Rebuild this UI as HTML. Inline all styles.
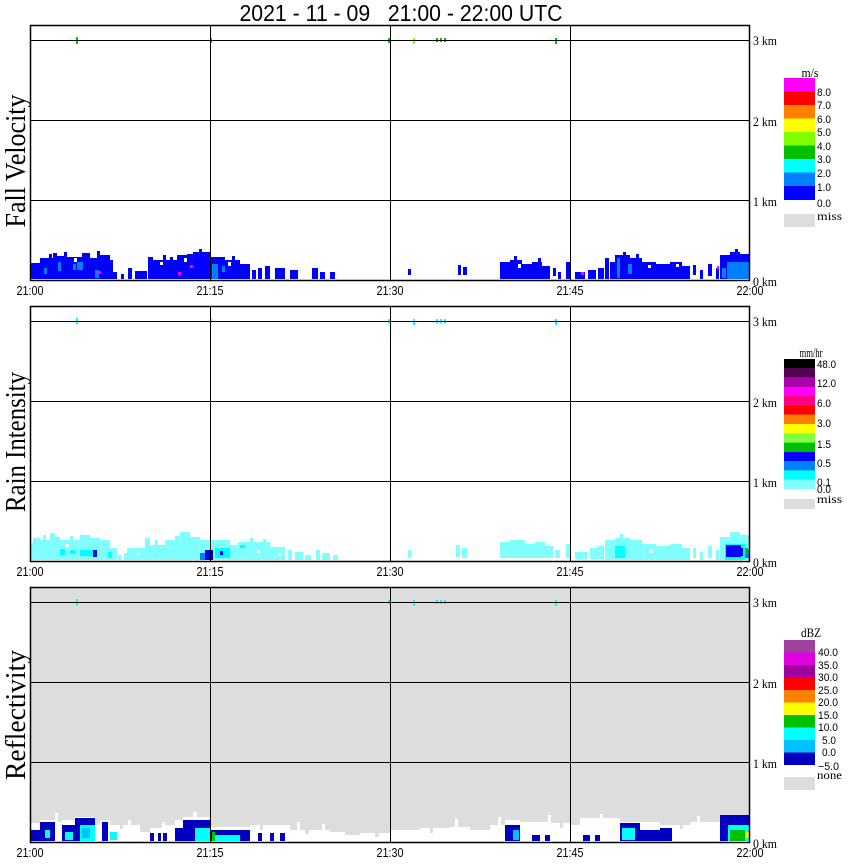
<!DOCTYPE html>
<html><head><meta charset="utf-8"><style>
html,body{margin:0;padding:0;background:#fff;}
svg{display:block;}
.t{font-family:"Liberation Sans",sans-serif;}
.s{font-family:"Liberation Serif",serif;}
.pre{white-space:pre;}
</style></head><body>
<svg width="850" height="868" viewBox="0 0 850 868" xmlns="http://www.w3.org/2000/svg">
<rect x="0" y="0" width="850" height="868" fill="#fff"/>
<text class="t pre" x="401" y="21" font-size="23" text-anchor="middle" textLength="323" lengthAdjust="spacingAndGlyphs" xml:space="preserve">2021 - 11 - 09   21:00 - 22:00 UTC</text>

<!-- ========== PANEL 1 : Fall Velocity ========== -->
<g fill="#0000ff">
<rect x="31" y="263" width="9" height="16"/><rect x="40" y="258" width="13" height="21"/><rect x="53" y="253" width="4" height="26"/>
<rect x="57" y="256" width="10" height="23"/><rect x="67" y="257" width="15" height="22"/><rect x="82" y="253" width="8" height="26"/>
<rect x="90" y="258" width="10" height="21"/><rect x="100" y="255" width="10" height="24"/><rect x="110" y="260" width="3" height="19"/>
<rect x="113" y="272" width="4" height="7"/><rect x="121" y="274" width="3" height="5"/><rect x="128" y="268" width="4" height="11"/>
<rect x="135" y="271" width="12" height="8"/><rect x="148" y="257" width="5" height="22"/><rect x="153" y="260" width="24" height="19"/>
<rect x="177" y="255" width="10" height="24"/><rect x="187" y="254" width="6" height="25"/><rect x="193" y="252" width="17" height="27"/>
<rect x="210" y="257" width="15" height="22"/><rect x="225" y="260" width="15" height="19"/><rect x="240" y="264" width="10" height="15"/>
<rect x="252" y="270" width="4" height="9"/><rect x="258" y="268" width="4" height="11"/><rect x="265" y="266" width="5" height="13"/>
<rect x="275" y="268" width="10" height="11"/><rect x="290" y="270" width="8" height="9"/><rect x="312" y="268" width="6" height="11"/>
<rect x="320" y="272" width="5" height="7"/><rect x="330" y="272" width="5" height="7"/>
<rect x="408" y="269" width="3" height="6"/><rect x="458" y="265" width="3" height="10"/><rect x="463" y="267" width="4" height="8"/>
<rect x="500" y="262" width="10" height="17"/><rect x="510" y="260" width="12" height="19"/><rect x="522" y="264" width="10" height="15"/>
<rect x="532" y="262" width="10" height="17"/><rect x="542" y="266" width="8" height="13"/><rect x="553" y="268" width="3" height="8"/>
<rect x="558" y="272" width="3" height="7"/><rect x="566" y="262" width="4" height="17"/><rect x="575" y="272" width="10" height="7"/>
<rect x="588" y="270" width="8" height="9"/><rect x="598" y="268" width="6" height="11"/><rect x="605" y="258" width="4" height="21"/>
<rect x="610" y="262" width="5" height="17"/><rect x="615" y="255" width="15" height="24"/><rect x="630" y="258" width="12" height="21"/>
<rect x="642" y="262" width="14" height="17"/><rect x="656" y="264" width="14" height="15"/><rect x="670" y="262" width="12" height="17"/>
<rect x="682" y="266" width="8" height="13"/><rect x="693" y="265" width="3" height="10"/><rect x="700" y="270" width="3" height="9"/>
<rect x="708" y="264" width="4" height="12"/><rect x="716" y="268" width="3" height="11"/><rect x="720" y="255" width="10" height="24"/>
<rect x="730" y="252" width="10" height="27"/><rect x="740" y="254" width="9" height="25"/>
<!-- bumps -->
<rect x="49" y="254" width="3" height="5"/><rect x="64" y="252" width="3" height="5"/><rect x="97" y="251" width="3" height="8"/>
<rect x="163" y="255" width="3" height="6"/><rect x="170" y="257" width="3" height="4"/><rect x="199" y="249" width="3" height="4"/>
<rect x="232" y="256" width="3" height="5"/><rect x="514" y="256" width="3" height="5"/><rect x="538" y="258" width="3" height="5"/>
<rect x="623" y="252" width="3" height="4"/><rect x="636" y="254" width="3" height="5"/><rect x="735" y="249" width="3" height="4"/>
</g>
<g fill="#fff">
<rect x="74" y="258" width="3" height="4"/><rect x="118" y="262" width="3" height="4"/><rect x="160" y="262" width="3" height="3"/>
<rect x="184" y="258" width="3" height="4"/><rect x="228" y="262" width="3" height="4"/><rect x="518" y="264" width="3" height="4"/>
<rect x="648" y="265" width="3" height="3"/><rect x="676" y="264" width="3" height="3"/>
</g>
<g fill="#0080ff">
<rect x="44" y="268" width="3" height="6"/><rect x="58" y="262" width="3" height="9"/><rect x="73" y="264" width="3" height="6"/>
<rect x="77" y="262" width="6" height="8"/><rect x="95" y="270" width="4" height="8"/><rect x="212" y="264" width="6" height="15"/>
<rect x="222" y="266" width="3" height="6"/><rect x="617" y="258" width="3" height="20"/><rect x="628" y="264" width="4" height="10"/>
<rect x="727" y="262" width="22" height="17"/><rect x="722" y="268" width="4" height="10"/>
</g>
<g fill="#ff00ff">
<rect x="98" y="271" width="3" height="3"/><rect x="190" y="265" width="3" height="3"/><rect x="178" y="272" width="3" height="3"/><rect x="581" y="272" width="3" height="3"/><rect x="717" y="266" width="2" height="3"/>
</g>
<g fill="#00c000">
<rect x="76" y="37" width="2" height="7"/><rect x="210" y="38" width="2" height="5"/><rect x="388" y="38" width="2" height="5"/>
<rect x="436" y="38" width="2" height="4"/><rect x="440" y="38" width="2" height="4"/><rect x="444" y="38" width="2" height="4"/>
<rect x="555" y="38" width="2" height="6"/>
</g>
<rect x="413" y="38" width="2" height="6" fill="#80ff00"/>

<!-- ========== PANEL 2 : Rain Intensity ========== -->
<g fill="#80ffff">
<rect x="31" y="543" width="3" height="17"/><rect x="33" y="538" width="7" height="22"/><rect x="40" y="540" width="10" height="20"/>
<rect x="50" y="533" width="5" height="27"/><rect x="55" y="537" width="5" height="23"/><rect x="60" y="540" width="20" height="20"/>
<rect x="80" y="535" width="10" height="25"/><rect x="90" y="538" width="10" height="22"/><rect x="100" y="540" width="10" height="20"/>
<rect x="110" y="548" width="7" height="12"/><rect x="118" y="555" width="3" height="5"/><rect x="124" y="553" width="3" height="7"/>
<rect x="127" y="548" width="5" height="12"/><rect x="132" y="548" width="13" height="12"/><rect x="145" y="538" width="5" height="22"/>
<rect x="150" y="545" width="15" height="15"/><rect x="165" y="540" width="10" height="20"/><rect x="175" y="536" width="5" height="24"/>
<rect x="180" y="532" width="10" height="28"/><rect x="190" y="537" width="10" height="23"/><rect x="200" y="540" width="10" height="20"/>
<rect x="210" y="540" width="20" height="20"/><rect x="230" y="545" width="8" height="15"/><rect x="238" y="542" width="32" height="18"/>
<rect x="270" y="547" width="15" height="13"/><rect x="288" y="550" width="4" height="10"/><rect x="295" y="552" width="8" height="8"/>
<rect x="305" y="555" width="6" height="5"/><rect x="316" y="550" width="4" height="10"/><rect x="322" y="553" width="8" height="7"/>
<rect x="333" y="555" width="5" height="5"/>
<rect x="408" y="550" width="3" height="8"/><rect x="456" y="545" width="4" height="12"/><rect x="462" y="548" width="5" height="10"/>
<rect x="500" y="542" width="10" height="16"/><rect x="510" y="540" width="15" height="18"/><rect x="525" y="544" width="10" height="14"/>
<rect x="535" y="542" width="10" height="16"/><rect x="545" y="546" width="8" height="12"/><rect x="555" y="550" width="5" height="8"/>
<rect x="566" y="544" width="4" height="14"/><rect x="575" y="552" width="12" height="7"/><rect x="590" y="548" width="8" height="11"/>
<rect x="598" y="546" width="6" height="13"/><rect x="605" y="540" width="10" height="20"/><rect x="615" y="538" width="15" height="22"/>
<rect x="630" y="540" width="12" height="20"/><rect x="642" y="544" width="14" height="16"/><rect x="656" y="546" width="14" height="14"/>
<rect x="670" y="544" width="12" height="16"/><rect x="682" y="548" width="8" height="12"/><rect x="693" y="548" width="3" height="10"/>
<rect x="700" y="552" width="3" height="8"/><rect x="708" y="546" width="4" height="12"/><rect x="716" y="550" width="3" height="10"/>
<rect x="720" y="537" width="10" height="23"/><rect x="730" y="532" width="10" height="28"/><rect x="740" y="535" width="9" height="25"/>
<rect x="43" y="535" width="3" height="5"/><rect x="70" y="536" width="3" height="5"/><rect x="155" y="540" width="3" height="5"/>
<rect x="250" y="538" width="3" height="5"/><rect x="263" y="539" width="3" height="4"/><rect x="620" y="534" width="3" height="5"/>
</g>
<g fill="#fff">
<rect x="66" y="544" width="3" height="3"/><rect x="137" y="552" width="3" height="3"/><rect x="257" y="550" width="3" height="3"/>
<rect x="278" y="553" width="3" height="3"/><rect x="650" y="550" width="3" height="3"/>
</g>
<g fill="#00ffff">
<rect x="60" y="549" width="5" height="6"/><rect x="70" y="550" width="5" height="4"/><rect x="80" y="550" width="15" height="6"/>
<rect x="108" y="552" width="4" height="6"/><rect x="215" y="548" width="15" height="10"/><rect x="240" y="545" width="5" height="3"/>
<rect x="615" y="546" width="10" height="12"/><rect x="725" y="544" width="20" height="16"/>
<rect x="76" y="318" width="2" height="6"/><rect x="210" y="319" width="2" height="4"/><rect x="388" y="319" width="2" height="4"/>
<rect x="413" y="319" width="2" height="6"/><rect x="436" y="319" width="2" height="4"/><rect x="440" y="319" width="2" height="4"/>
<rect x="444" y="319" width="2" height="4"/><rect x="555" y="319" width="2" height="6"/>
</g>
<g fill="#0000ff">
<rect x="93" y="550" width="4" height="7"/><rect x="205" y="550" width="8" height="10"/><rect x="220" y="551" width="3" height="4"/>
<rect x="726" y="545" width="15" height="12"/><rect x="735" y="548" width="8" height="8"/>
</g>
<rect x="200" y="553" width="5" height="7" fill="#0080ff"/>
<rect x="745" y="550" width="4" height="8" fill="#0080ff"/>
<rect x="745" y="548" width="3" height="6" fill="#00c000"/>

<!-- ========== PANEL 3 : Reflectivity ========== -->
<rect x="31" y="588" width="718" height="253" fill="#dddddd"/>
<g fill="#ffffff">
<rect x="31" y="823" width="9" height="18"/><rect x="40" y="820" width="15" height="21"/><rect x="55" y="813" width="3" height="28"/>
<rect x="57" y="822" width="5" height="19"/><rect x="62" y="820" width="13" height="21"/><rect x="75" y="817" width="20" height="24"/>
<rect x="95" y="825" width="5" height="16"/><rect x="100" y="820" width="10" height="21"/><rect x="110" y="825" width="30" height="16"/>
<rect x="140" y="832" width="10" height="9"/><rect x="150" y="828" width="15" height="13"/><rect x="165" y="825" width="10" height="16"/>
<rect x="175" y="820" width="8" height="21"/><rect x="183" y="817" width="10" height="24"/><rect x="193" y="812" width="4" height="29"/>
<rect x="197" y="817" width="13" height="24"/><rect x="210" y="827" width="40" height="14"/><rect x="250" y="825" width="40" height="16"/>
<rect x="290" y="830" width="40" height="11"/><rect x="330" y="832" width="15" height="9"/><rect x="345" y="835" width="15" height="6"/>
<rect x="360" y="833" width="30" height="8"/><rect x="390" y="830" width="30" height="11"/><rect x="420" y="828" width="30" height="13"/>
<rect x="450" y="827" width="20" height="14"/><rect x="470" y="830" width="20" height="11"/><rect x="490" y="825" width="15" height="16"/>
<rect x="505" y="820" width="15" height="21"/><rect x="520" y="822" width="30" height="19"/><rect x="550" y="823" width="20" height="18"/>
<rect x="570" y="825" width="10" height="16"/><rect x="580" y="818" width="40" height="23"/><rect x="620" y="822" width="40" height="19"/>
<rect x="660" y="825" width="30" height="16"/><rect x="690" y="822" width="30" height="19"/><rect x="720" y="815" width="29" height="26"/>
<rect x="128" y="820" width="3" height="6"/><rect x="162" y="822" width="3" height="6"/><rect x="297" y="822" width="3" height="8"/>
<rect x="322" y="824" width="3" height="6"/><rect x="455" y="819" width="3" height="8"/><rect x="498" y="817" width="3" height="8"/>
<rect x="548" y="815" width="3" height="8"/><rect x="600" y="814" width="3" height="5"/><rect x="697" y="816" width="3" height="6"/>
</g>
<g fill="#dddddd">
<rect x="120" y="825" width="3" height="4"/><rect x="260" y="825" width="3" height="5"/><rect x="305" y="830" width="4" height="4"/>
<rect x="375" y="833" width="4" height="4"/><rect x="430" y="828" width="3" height="5"/><rect x="560" y="823" width="3" height="5"/>
<rect x="680" y="825" width="3" height="4"/>
</g>
<g fill="#0000c0">
<rect x="31" y="830" width="9" height="11"/><rect x="40" y="822" width="15" height="19"/><rect x="62" y="825" width="13" height="16"/>
<rect x="75" y="818" width="20" height="23"/><rect x="102" y="822" width="6" height="19"/>
<rect x="150" y="833" width="4" height="8"/><rect x="158" y="833" width="3" height="8"/><rect x="163" y="833" width="4" height="8"/>
<rect x="175" y="828" width="8" height="13"/><rect x="183" y="820" width="27" height="21"/><rect x="210" y="830" width="40" height="11"/>
<rect x="258" y="833" width="4" height="8"/><rect x="270" y="833" width="4" height="8"/><rect x="280" y="833" width="5" height="8"/>
<rect x="505" y="825" width="15" height="16"/><rect x="532" y="835" width="8" height="6"/><rect x="545" y="835" width="5" height="6"/>
<rect x="583" y="835" width="7" height="6"/><rect x="595" y="835" width="5" height="6"/><rect x="620" y="823" width="20" height="18"/>
<rect x="640" y="830" width="20" height="11"/><rect x="660" y="828" width="12" height="13"/><rect x="720" y="815" width="29" height="26"/>
</g>
<g fill="#00ffff">
<rect x="45" y="830" width="5" height="8"/><rect x="80" y="825" width="15" height="16"/><rect x="65" y="832" width="8" height="8"/>
<rect x="110" y="832" width="7" height="8"/><rect x="195" y="828" width="15" height="13"/><rect x="215" y="835" width="25" height="6"/>
<rect x="622" y="828" width="13" height="12"/><rect x="728" y="825" width="21" height="16"/>
<rect x="76" y="599" width="2" height="6"/><rect x="388" y="600" width="2" height="4"/><rect x="413" y="600" width="2" height="6"/>
<rect x="436" y="600" width="2" height="4"/><rect x="440" y="600" width="2" height="4"/><rect x="444" y="600" width="2" height="4"/>
<rect x="555" y="600" width="2" height="6"/>
</g>
<rect x="82" y="828" width="8" height="10" fill="#00c0ff"/>
<rect x="513" y="830" width="6" height="10" fill="#00c0ff"/>
<rect x="212" y="832" width="3" height="9" fill="#00c000"/>
<rect x="730" y="830" width="15" height="11" fill="#00c000"/>
<rect x="746" y="832" width="3" height="6" fill="#ffff00"/>

<!-- ========== GRIDS / FRAMES ========== -->
<g stroke="#000" stroke-width="1" fill="none">
<path d="M30 40.5H750M30 120.5H750M30 200.5H750M210.5 25V280M390.5 25V280M570.5 25V280"/>
<path d="M30 321.5H750M30 401.5H750M30 481.5H750M210.5 306V561M390.5 306V561M570.5 306V561"/>
<path d="M30 602.5H750M30 682.5H750M30 762.5H750M210.5 587V842M390.5 587V842M570.5 587V842"/>
</g>
<g stroke="#000" stroke-width="1.5" fill="none">
<rect x="30.5" y="25.5" width="719" height="255"/>
<rect x="30.5" y="306.5" width="719" height="255"/>
<rect x="30.5" y="587.5" width="719" height="255"/>
</g>

<!-- time labels -->
<g class="t" font-size="13" text-anchor="middle">
<text x="30" y="295" textLength="27" lengthAdjust="spacingAndGlyphs">21:00</text>
<text x="210" y="295" textLength="27" lengthAdjust="spacingAndGlyphs">21:15</text>
<text x="390" y="295" textLength="27" lengthAdjust="spacingAndGlyphs">21:30</text>
<text x="570" y="295" textLength="27" lengthAdjust="spacingAndGlyphs">21:45</text>
<text x="750" y="295" textLength="27" lengthAdjust="spacingAndGlyphs">22:00</text>
<text x="30" y="576" textLength="27" lengthAdjust="spacingAndGlyphs">21:00</text>
<text x="210" y="576" textLength="27" lengthAdjust="spacingAndGlyphs">21:15</text>
<text x="390" y="576" textLength="27" lengthAdjust="spacingAndGlyphs">21:30</text>
<text x="570" y="576" textLength="27" lengthAdjust="spacingAndGlyphs">21:45</text>
<text x="750" y="576" textLength="27" lengthAdjust="spacingAndGlyphs">22:00</text>
<text x="30" y="857" textLength="27" lengthAdjust="spacingAndGlyphs">21:00</text>
<text x="210" y="857" textLength="27" lengthAdjust="spacingAndGlyphs">21:15</text>
<text x="390" y="857" textLength="27" lengthAdjust="spacingAndGlyphs">21:30</text>
<text x="570" y="857" textLength="27" lengthAdjust="spacingAndGlyphs">21:45</text>
<text x="750" y="857" textLength="27" lengthAdjust="spacingAndGlyphs">22:00</text>
</g>

<!-- km labels -->
<g class="s" font-size="12.5">
<text x="753" y="45" textLength="24" lengthAdjust="spacingAndGlyphs">3 km</text>
<text x="753" y="126" textLength="24" lengthAdjust="spacingAndGlyphs">2 km</text>
<text x="753" y="206" textLength="24" lengthAdjust="spacingAndGlyphs">1 km</text>
<text x="753" y="286" textLength="24" lengthAdjust="spacingAndGlyphs">0 km</text>
<text x="753" y="326" textLength="24" lengthAdjust="spacingAndGlyphs">3 km</text>
<text x="753" y="407" textLength="24" lengthAdjust="spacingAndGlyphs">2 km</text>
<text x="753" y="487" textLength="24" lengthAdjust="spacingAndGlyphs">1 km</text>
<text x="753" y="567" textLength="24" lengthAdjust="spacingAndGlyphs">0 km</text>
<text x="753" y="607" textLength="24" lengthAdjust="spacingAndGlyphs">3 km</text>
<text x="753" y="688" textLength="24" lengthAdjust="spacingAndGlyphs">2 km</text>
<text x="753" y="768" textLength="24" lengthAdjust="spacingAndGlyphs">1 km</text>
<text x="753" y="848" textLength="24" lengthAdjust="spacingAndGlyphs">0 km</text>
</g>

<!-- Y axis titles -->
<g class="s" font-size="29" text-anchor="middle">
<text transform="translate(25,161) rotate(-90)" textLength="133" lengthAdjust="spacingAndGlyphs">Fall Velocity</text>
<text transform="translate(25,442) rotate(-90)" textLength="140" lengthAdjust="spacingAndGlyphs">Rain Intensity</text>
<text transform="translate(25,715) rotate(-90)" textLength="130" lengthAdjust="spacingAndGlyphs">Reflectivity</text>
</g>

<!-- Legend 1 -->
<text class="s" x="810" y="77" font-size="13" text-anchor="middle" textLength="17" lengthAdjust="spacingAndGlyphs">m/s</text>
<rect x="784" y="78" width="31" height="13.6" fill="#ff00ff"/>
<rect x="784" y="91.5" width="31" height="13.6" fill="#ff0000"/>
<rect x="784" y="105" width="31" height="13.6" fill="#ff8000"/>
<rect x="784" y="118.5" width="31" height="13.6" fill="#ffff00"/>
<rect x="784" y="132" width="31" height="13.6" fill="#80ff00"/>
<rect x="784" y="145.5" width="31" height="13.6" fill="#00c000"/>
<rect x="784" y="159" width="31" height="13.6" fill="#00ffff"/>
<rect x="784" y="172.5" width="31" height="13.6" fill="#0080ff"/>
<rect x="784" y="186" width="31" height="14" fill="#0000ff"/>
<rect x="784" y="214" width="31" height="13" fill="#dddddd"/>
<g class="t" font-size="11">
<text x="817" y="96" textLength="14" lengthAdjust="spacingAndGlyphs">8.0</text>
<text x="817" y="109" textLength="14" lengthAdjust="spacingAndGlyphs">7.0</text>
<text x="817" y="123" textLength="14" lengthAdjust="spacingAndGlyphs">6.0</text>
<text x="817" y="136" textLength="14" lengthAdjust="spacingAndGlyphs">5.0</text>
<text x="817" y="150" textLength="14" lengthAdjust="spacingAndGlyphs">4.0</text>
<text x="817" y="163" textLength="14" lengthAdjust="spacingAndGlyphs">3.0</text>
<text x="817" y="177" textLength="14" lengthAdjust="spacingAndGlyphs">2.0</text>
<text x="817" y="191" textLength="14" lengthAdjust="spacingAndGlyphs">1.0</text>
<text x="817" y="207" textLength="14" lengthAdjust="spacingAndGlyphs">0.0</text>
</g>
<text class="s" x="817" y="220" font-size="12" textLength="25" lengthAdjust="spacingAndGlyphs">miss</text>

<!-- Legend 2 -->
<text class="s" x="811" y="357" font-size="13" text-anchor="middle" textLength="23" lengthAdjust="spacingAndGlyphs">mm/hr</text>
<rect x="784" y="359" width="31" height="9.4" fill="#000000"/>
<rect x="784" y="368.3" width="31" height="9.4" fill="#550055"/>
<rect x="784" y="377.6" width="31" height="9.4" fill="#aa00aa"/>
<rect x="784" y="386.9" width="31" height="9.4" fill="#ff00ff"/>
<rect x="784" y="396.1" width="31" height="9.4" fill="#ff0080"/>
<rect x="784" y="405.4" width="31" height="9.4" fill="#ff0000"/>
<rect x="784" y="414.7" width="31" height="9.4" fill="#ff8000"/>
<rect x="784" y="424" width="31" height="9.4" fill="#ffff00"/>
<rect x="784" y="433.3" width="31" height="9.4" fill="#80ff40"/>
<rect x="784" y="442.6" width="31" height="9.4" fill="#00c000"/>
<rect x="784" y="451.9" width="31" height="9.4" fill="#0000ff"/>
<rect x="784" y="461.1" width="31" height="9.4" fill="#0080ff"/>
<rect x="784" y="470.4" width="31" height="9.4" fill="#00ffff"/>
<rect x="784" y="479.7" width="31" height="9.3" fill="#80ffff"/>
<rect x="784" y="499" width="31" height="10" fill="#dddddd"/>
<g class="t" font-size="11">
<text x="817" y="368" textLength="19" lengthAdjust="spacingAndGlyphs">48.0</text>
<text x="817" y="387" textLength="19" lengthAdjust="spacingAndGlyphs">12.0</text>
<text x="817" y="407" textLength="14" lengthAdjust="spacingAndGlyphs">6.0</text>
<text x="817" y="427" textLength="14" lengthAdjust="spacingAndGlyphs">3.0</text>
<text x="817" y="448" textLength="14" lengthAdjust="spacingAndGlyphs">1.5</text>
<text x="817" y="467" textLength="14" lengthAdjust="spacingAndGlyphs">0.5</text>
<text x="817" y="486" textLength="14" lengthAdjust="spacingAndGlyphs">0.1</text>
<text x="817" y="493" textLength="14" lengthAdjust="spacingAndGlyphs">0.0</text>
</g>
<text class="s" x="817" y="503" font-size="12" textLength="25" lengthAdjust="spacingAndGlyphs">miss</text>

<!-- Legend 3 -->
<text class="s" x="811" y="637" font-size="13" text-anchor="middle" textLength="20" lengthAdjust="spacingAndGlyphs">dBZ</text>
<rect x="784" y="640" width="31" height="12.6" fill="#a040a0"/>
<rect x="784" y="652.5" width="31" height="12.6" fill="#e000e0"/>
<rect x="784" y="665" width="31" height="12.6" fill="#a000a0"/>
<rect x="784" y="677.5" width="31" height="12.6" fill="#ff0000"/>
<rect x="784" y="690" width="31" height="12.6" fill="#ff8000"/>
<rect x="784" y="702.5" width="31" height="12.6" fill="#ffff00"/>
<rect x="784" y="715" width="31" height="12.6" fill="#00c000"/>
<rect x="784" y="727.5" width="31" height="12.6" fill="#00ffff"/>
<rect x="784" y="740" width="31" height="12.6" fill="#00c0ff"/>
<rect x="784" y="752.5" width="31" height="12.5" fill="#0000c0"/>
<rect x="784" y="777" width="31" height="13" fill="#dddddd"/>
<g class="t" font-size="11">
<text x="818" y="656" textLength="20" lengthAdjust="spacingAndGlyphs">40.0</text>
<text x="818" y="669" textLength="20" lengthAdjust="spacingAndGlyphs">35.0</text>
<text x="818" y="681" textLength="20" lengthAdjust="spacingAndGlyphs">30.0</text>
<text x="818" y="694" textLength="20" lengthAdjust="spacingAndGlyphs">25.0</text>
<text x="818" y="706" textLength="20" lengthAdjust="spacingAndGlyphs">20.0</text>
<text x="818" y="719" textLength="20" lengthAdjust="spacingAndGlyphs">15.0</text>
<text x="818" y="731" textLength="20" lengthAdjust="spacingAndGlyphs">10.0</text>
<text x="822" y="744" textLength="14" lengthAdjust="spacingAndGlyphs">5.0</text>
<text x="822" y="756" textLength="14" lengthAdjust="spacingAndGlyphs">0.0</text>
<text x="818" y="770" textLength="21" lengthAdjust="spacingAndGlyphs">−5.0</text>
</g>
<text class="s" x="817" y="779" font-size="12" textLength="25" lengthAdjust="spacingAndGlyphs">none</text>
</svg>
</body></html>
